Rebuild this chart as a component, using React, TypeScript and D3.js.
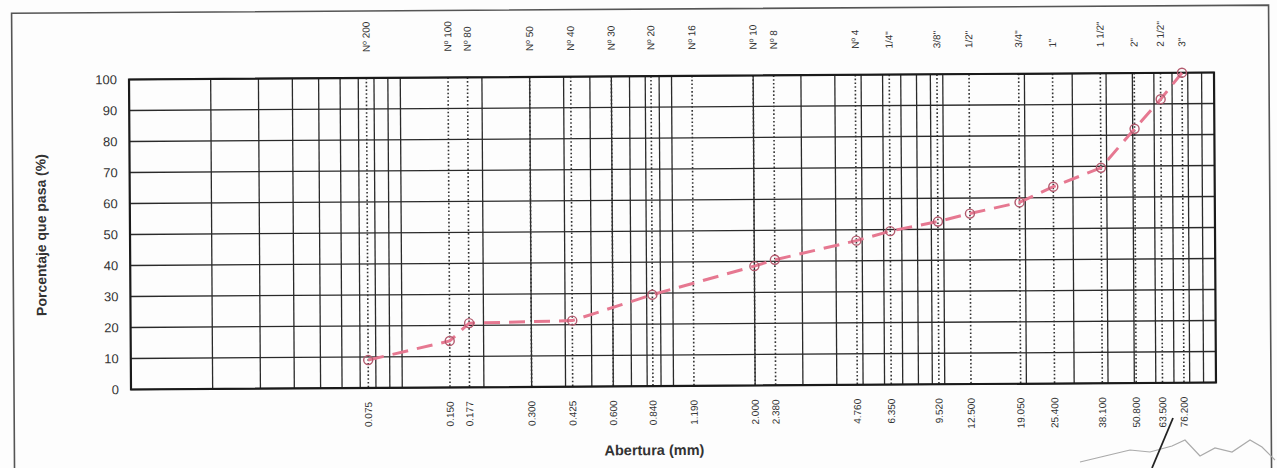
import React from 'react';
import * as d3 from 'd3';

const sieveNames = ['Nº 200', 'Nº 100', 'Nº 80', 'Nº 50', 'Nº 40', 'Nº 30', 'Nº 20', 'Nº 16', 'Nº 10', 'Nº 8', 'Nº 4', '1/4"', '3/8"', '1/2"', '3/4"', '1"', '1 1/2"', '2"', '2 1/2"', '3"'];
const sieveSizes = [0.075, 0.15, 0.177, 0.3, 0.425, 0.6, 0.84, 1.19, 2.0, 2.38, 4.76, 6.35, 9.52, 12.5, 19.05, 25.4, 38.1, 50.8, 63.5, 76.2];
const sieveLabels = ['0.075', '0.150', '0.177', '0.300', '0.425', '0.600', '0.840', '1.190', '2.000', '2.380', '4.760', '6.350', '9.520', '12.500', '19.050', '25.400', '38.100', '50.800', '63.500', '76.200'];

const sampleSizes = [0.075, 0.15, 0.177, 0.425, 0.84, 2.0, 2.38, 4.76, 6.35, 9.52, 12.5, 19.05, 25.4, 38.1, 50.8, 63.5, 76.2];
const samplePassing = [9, 15, 20.7, 21.3, 29.5, 38.5, 40.5, 46.5, 49.5, 52.5, 55, 58.5, 63.5, 69.5, 82, 91.5, 100];

const yTicks = [0, 10, 20, 30, 40, 50, 60, 70, 80, 90, 100];
const decades = [0.01, 0.1, 1, 10];
const multiples = [1, 2, 3, 4, 5, 6, 7, 8, 9];

const W = 1277;
const H = 468;
const FONT = '"Liberation Sans", Arial, sans-serif';

export default function App() {
  const left = 130, right = 1215, top = 76, bottom = 386;
  const x = d3.scaleLog().domain([0.01, 100]).range([left, right]);
  const y = d3.scaleLinear().domain([0, 100]).range([bottom, top]);

  const gridX: number[] = [];
  decades.forEach((d) => multiples.forEach((m) => {
    const v = d * m;
    if (v > 0.01 && v < 100) gridX.push(v);
  }));

  const pts: [number, number][] = sampleSizes.map((s, i) => [x(s), y(samplePassing[i])]);
  const line = d3.line()(pts) || '';

  const ink = '#2a2a2a';
  const pink = '#e67891';

  return (
    <svg width={W} height={H} style={{ position: 'absolute', left: 0, top: 0, background: '#fff' }}>
      <rect x={0} y={0} width={W} height={H} fill="#fdfdfd" />
      <g transform="rotate(-0.37, 672, 231)">
        {/* outer frame */}
        <path d={`M13,490 L13,9 L1270,9 L1270,490`} fill="none" stroke="#555" strokeWidth={1.6} />

        {/* horizontal grid */}
        {yTicks.map((t) => (
          <line key={'h' + t} x1={left} x2={right} y1={y(t)} y2={y(t)} stroke={ink} strokeWidth={1.3} />
        ))}
        {/* vertical log grid */}
        {gridX.map((v, i) => (
          <line key={'v' + i} x1={x(v)} x2={x(v)} y1={top} y2={bottom} stroke={ink} strokeWidth={1.3} />
        ))}
        {/* sieve dotted lines */}
        {sieveSizes.map((s, i) => (
          <line key={'s' + i} x1={x(s)} x2={x(s)} y1={top} y2={bottom} stroke="#333" strokeWidth={1.6} strokeDasharray="1.6 2.2" />
        ))}
        {/* plot border */}
        <rect x={left} y={top} width={right - left} height={bottom - top} fill="none" stroke="#1a1a1a" strokeWidth={2.2} />

        {/* y ticks */}
        {yTicks.map((t) => (
          <text key={'yt' + t} x={118} y={y(t)} dy="0.35em" textAnchor="end" fontFamily={FONT} fontSize={13} fill="#333">{t}</text>
        ))}
        <text transform={`translate(46, ${(top + bottom) / 2}) rotate(-90)`} textAnchor="middle" fontFamily={FONT} fontSize={14} fontWeight="bold" fill="#333">Porcentaje que pasa (%)</text>

        {/* top sieve names */}
        {sieveNames.map((n, i) => (
          <text key={'tn' + i} transform={`translate(${x(sieveSizes[i])}, 50) rotate(-90)`} dy="0.35em" textAnchor="start" fontFamily={FONT} fontSize={10} fill="#333">{n}</text>
        ))}
        {/* bottom sieve sizes */}
        {sieveLabels.map((n, i) => (
          <text key={'bn' + i} transform={`translate(${x(sieveSizes[i])}, 400) rotate(-90)`} dy="0.35em" textAnchor="end" fontFamily={FONT} fontSize={10} fill="#333">{n}</text>
        ))}
        <text x={653} y={455} textAnchor="middle" fontFamily={FONT} fontSize={14.5} fontWeight="bold" fill="#333">Abertura (mm)</text>

        {/* curve */}
        <path d={line} fill="none" stroke={pink} strokeWidth={3} strokeDasharray="16 9" />
        {pts.map((p, i) => (
          <circle key={'c' + i} cx={p[0]} cy={p[1]} r={4.5} fill="none" stroke="#b35a6e" strokeWidth={1.4} />
        ))}
      </g>

      {/* signature marks */}
      <path d="M1080,462 L1105,456 L1130,450 L1150,452 L1172,446 L1185,440 L1200,456 L1215,448 L1232,452 L1250,440 L1262,447 L1275,460" fill="none" stroke="#aaa" strokeWidth={1.2} />
      <path d="M1173,418 L1152,468" fill="none" stroke="#222" strokeWidth={1.8} />
    </svg>
  );
}
